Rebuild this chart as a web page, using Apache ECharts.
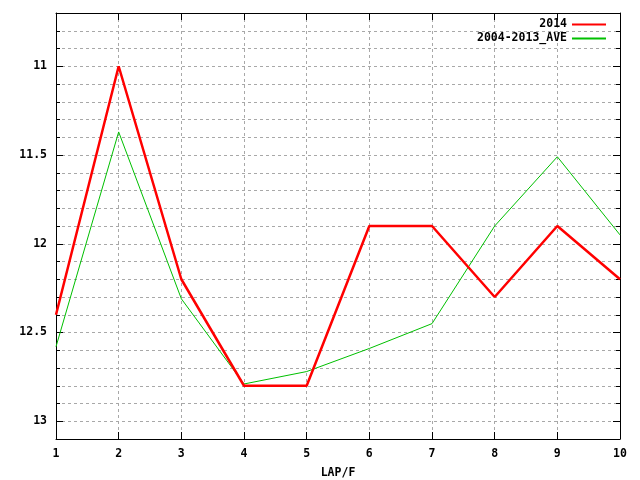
<!DOCTYPE html>
<html>
<head>
<meta charset="utf-8">
<script src="https://cdn.jsdelivr.net/npm/echarts@6/dist/echarts.min.js"></script>
<style>html,body{margin:0;padding:0;background:#fff}#c{width:640px;height:480px}</style>
</head>
<body>
<div id="c"></div>
<script>
var laps = [1, 2, 3, 4, 5, 6, 7, 8, 9, 10];
var series2014 = [12.40, 11.00, 12.20, 12.80, 12.80, 11.90, 11.90, 12.30, 11.90, 12.20];
var seriesAve = [12.58, 11.37, 12.31, 12.79, 12.72, 12.59, 12.45, 11.90, 11.51, 11.95];
var yLabels = [11, 11.5, 12, 12.5, 13];
var xLabels = ['1', '2', '3', '4', '5', '6', '7', '8', '9', '10'];

var font = {fontFamily: 'DejaVu Sans Mono', fontWeight: 'bold', fontSize: 11.5, color: '#000'};
function pairs(arr) { return laps.map(function (x, i) { return [x, arr[i]]; }); }

var chart = echarts.init(document.getElementById('c'), null, {renderer: 'canvas'});
var yBase = {type: 'value', inverse: true, min: 10.7, max: 13.1, interval: 0.1};
function yAxisDef(pos, opts) {
  return Object.assign({}, yBase, {
    position: pos,
    axisLine: {show: opts.line, lineStyle: {color: '#000', width: 1}},
    axisTick: opts.tick,
    axisLabel: opts.label,
    splitLine: opts.split
  });
}
var gridLine = {show: true, lineStyle: {color: '#a8a8a8', type: [3, 3], width: 1}};
var minorTick = {show: true, inside: true, length: 4, lineStyle: {color: '#000'}};
var majorTick = {show: true, inside: true, length: 7, customValues: yLabels, lineStyle: {color: '#000'}};
chart.setOption({
  animation: false,
  backgroundColor: '#fff',
  grid: {left: 56, right: 20, top: 13, bottom: 41, show: false, containLabel: false, outerBoundsMode: 'none'},
  legend: {
    orient: 'vertical', right: 33, top: 18.5, align: 'right', itemGap: 2, padding: 0,
    itemWidth: 34, itemHeight: 11,
    itemStyle: {opacity: 0},
    textStyle: font,
    data: ['2014', '2004-2013_AVE']
  },
  xAxis: [{
    type: 'value', min: 1, max: 10, interval: 1, position: 'bottom',
    name: 'LAP/F', nameLocation: 'middle', nameGap: 28, nameTextStyle: font,
    axisLine: {show: true, onZero: false, lineStyle: {color: '#000'}},
    axisTick: {show: true, inside: true, length: 7, lineStyle: {color: '#000'}},
    axisLabel: Object.assign({margin: 9, formatter: function (v) { return xLabels[v - 1]; }}, font),
    splitLine: gridLine
  }, {
    type: 'value', min: 1, max: 10, interval: 1, position: 'top',
    axisLine: {show: true, onZero: false, lineStyle: {color: '#000'}},
    axisTick: {show: true, inside: true, length: 7, lineStyle: {color: '#000'}},
    axisLabel: {show: false}, splitLine: {show: false}
  }],
  yAxis: [
    yAxisDef('left', {line: true, tick: minorTick,
      label: Object.assign({margin: 9, customValues: yLabels, formatter: function (v) { return String(v); }}, font),
      split: gridLine}),
    yAxisDef('left', {line: false, tick: majorTick, label: {show: false}, split: {show: false}}),
    yAxisDef('right', {line: true, tick: minorTick, label: {show: false}, split: {show: false}}),
    yAxisDef('right', {line: false, tick: majorTick, label: {show: false}, split: {show: false}})
  ],
  series: [{
    name: '2014', type: 'line', data: pairs(series2014), symbol: 'none',
    lineStyle: {color: '#ff0000', width: 2.5}, itemStyle: {color: '#ff0000'}, z: 3
  }, {
    name: '2004-2013_AVE', type: 'line', data: pairs(seriesAve), symbol: 'none',
    lineStyle: {color: '#00c000', width: 1}, itemStyle: {color: '#00c000'}, z: 2
  }]
});
</script>
</body>
</html>
